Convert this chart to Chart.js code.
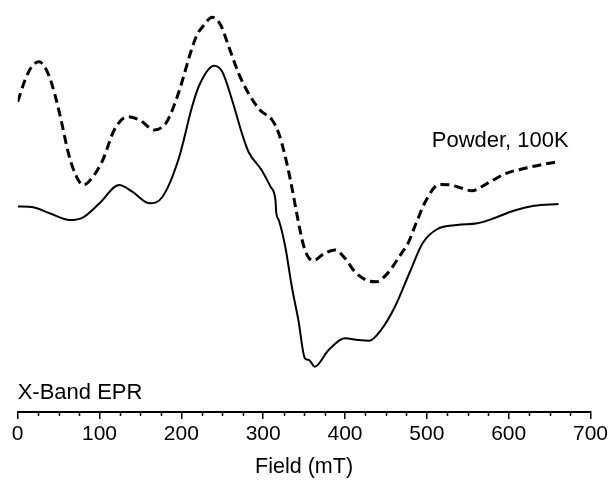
<!DOCTYPE html>
<html>
<head>
<meta charset="utf-8">
<script src="https://cdn.jsdelivr.net/npm/chart.js@4/dist/chart.umd.min.js"></script>
<style>
  html, body { margin: 0; padding: 0; background: #fff; }
  canvas { display: block; }
</style>
</head>
<body>
<canvas id="c" width="611" height="480"></canvas>
<script>
// Field values (mT) and EPR signal (arbitrary units)
const solidField = [0, 19, 39, 64, 80, 100, 124, 140, 161, 177, 197, 213, 222, 240, 250, 262, 274, 282, 298, 309, 315, 316, 319, 327, 335, 343, 351, 356, 363, 380, 400, 416, 430, 444, 461, 479, 495, 513, 537, 562, 582, 606, 631, 661];
const solidSignal = [-1.5, -2.3, -8.3, -15, -12.3, 1.7, 20, 13.3, 1.7, 8.3, 47, 98, 120, 139.3, 133.3, 105, 71.7, 53.3, 35, 18.3, 5, -8, -15, -41.7, -81.7, -115, -153.3, -155, -161.7, -145, -133.3, -135, -135.7, -125, -101.7, -67.5, -38, -24, -20, -18.3, -13.3, -5.7, -0.7, 1];

const dashField = [0, 9, 17, 26, 37, 45, 53, 62, 70, 80, 92, 104, 118, 134, 149, 167, 181, 189, 199, 211, 219, 226, 238, 248, 258, 270, 282, 296, 311, 319, 327, 334, 341, 345, 351, 361, 375, 388, 400, 412, 426, 438, 452, 469, 477, 487, 499, 515, 529, 537, 555, 574, 597, 620, 644, 661];
const dashSignal = [103.3, 125, 138.3, 143.3, 131.7, 111.7, 85, 51.7, 31.7, 20, 28.3, 45, 75, 88.3, 85, 75, 81.7, 95, 118.3, 151.7, 170, 178.3, 187.7, 180, 158.3, 131.7, 111.7, 95, 85, 71.7, 48.3, 22, -8.3, -25, -45, -55.7, -48.3, -45, -53.3, -66.7, -75, -76.7, -68.3, -48.3, -38.3, -18, 4.5, 20.5, 20, 18.3, 14.3, 21.7, 31.7, 36.7, 41, 43.3];

const xTicks = [0, 100, 200, 300, 400, 500, 600, 700];
const minorStep = 25;
const xTitle = 'Field (mT)';
const notes = [
  { text: 'X-Band EPR', field: 0, signal: -194 },
  { text: 'Powder, 100K', field: 506, signal: 58.3 }
];

const FONT = '"Liberation Sans", Arial, Helvetica, sans-serif';

function pts(xs, ys) { return xs.map((x, i) => ({ x: x, y: ys[i] })); }

const extras = {
  id: 'extras',
  afterDraw(chart) {
    const ctx = chart.ctx;
    const xs = chart.scales.x, ys = chart.scales.y;
    ctx.save();
    // minor ticks
    ctx.strokeStyle = '#000';
    ctx.lineWidth = 1.5;
    for (let v = xs.min; v <= xs.max; v += minorStep) {
      if (xTicks.includes(v)) continue;
      const px = Math.round(xs.getPixelForValue(v)) + 0.5;
      ctx.beginPath();
      ctx.moveTo(px, xs.top);
      ctx.lineTo(px, xs.top + 4);
      ctx.stroke();
    }
    // annotations
    ctx.fillStyle = '#000';
    ctx.font = '22px ' + FONT;
    ctx.textAlign = 'left';
    ctx.textBaseline = 'alphabetic';
    notes.forEach(n => {
      ctx.fillText(n.text, xs.getPixelForValue(n.field), ys.getPixelForValue(n.signal));
    });
    ctx.restore();
  }
};

new Chart(document.getElementById('c'), {
  type: 'line',
  data: {
    datasets: [
      {
        data: pts(solidField, solidSignal),
        borderColor: '#000',
        borderWidth: 2,
        pointRadius: 0,
        cubicInterpolationMode: 'monotone',
        fill: false
      },
      {
        data: pts(dashField, dashSignal),
        borderColor: '#000',
        borderWidth: 3,
        borderDash: [9, 5],
        pointRadius: 0,
        cubicInterpolationMode: 'monotone',
        fill: false
      }
    ]
  },
  options: {
    responsive: false,
    animation: false,
    layout: { padding: { left: 17.7, right: 17.3, top: 0, bottom: 0 } },
    plugins: { legend: { display: false }, tooltip: { enabled: false }, title: { display: false } },
    scales: {
      x: {
        type: 'linear',
        position: 'bottom',
        min: 0,
        max: 700,
        afterBuildTicks(s) { s.ticks = xTicks.map(v => ({ value: v })); },
        afterFit(s) { s.height = 68; },
        ticks: {
          color: '#000',
          font: { family: FONT, size: 21 },
          padding: 3,
          maxRotation: 0,
          autoSkip: false
        },
        grid: { drawOnChartArea: false, drawTicks: true, tickLength: 7, color: '#000', lineWidth: 1.5 },
        border: { display: true, color: '#000', width: 2 },
        title: { display: true, text: xTitle, color: '#000', font: { family: FONT, size: 21.5 }, padding: { top: 0, bottom: 0 } }
      },
      y: { display: false, min: -207, max: 205 }
    }
  },
  plugins: [extras]
});
</script>
</body>
</html>
